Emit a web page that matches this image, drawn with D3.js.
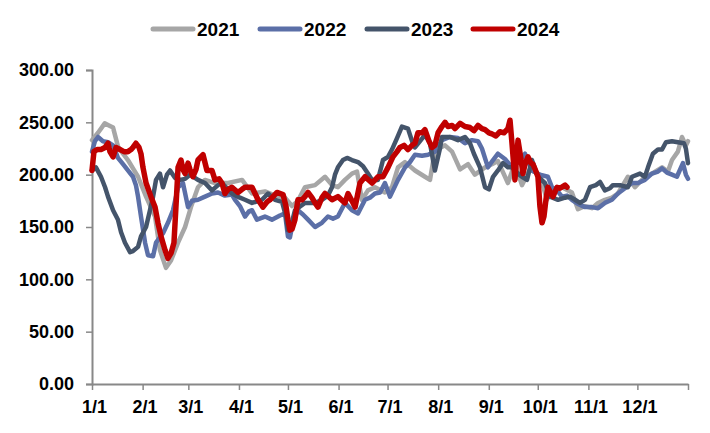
<!DOCTYPE html>
<html><head><meta charset="utf-8">
<script src="https://cdn.jsdelivr.net/npm/d3@7"></script>
<style>body{margin:0;background:#fff}svg{display:block}</style>
</head><body>
<script>
// ---- data (day of year, value) ----
const monthStartDays = [0,31,59,90,120,151,181,212,243,273,304,334];
const monthLabels = ["1/1","2/1","3/1","4/1","5/1","6/1","7/1","8/1","9/1","10/1","11/1","12/1"];
const yTicks = [0,50,100,150,200,250,300];
const seriesNames = ["2021","2022","2023","2024"];
const seriesColors = ["#A6A6A6","#5B6FA7","#44546A","#C00000"];

// pixel-read samples converted to day index
const px2021 = [[92,233],[98,240],[104.7,249],[109,247],[113,245],[118,227],[123,220],[128,214],[133,206],[138,198],[146,179],[155,160],[160,128],[166,111],[171,118],[178,135],[185,150],[191,169],[198,188],[205,195],[215,192],[228,192],[242,195],[252,182],[265,184],[275,180],[285,178],[292,170],[298,175],[305,188],[315,190],[325,198],[332,190],[338,188],[345,195],[352,201],[357,203],[362,176],[368,185],[375,188],[385,183],[392,188],[398,207],[405,212],[415,204],[425,198],[430,195],[435,223],[445,228],[452,222],[460,205],[468,210],[475,200],[485,207],[492,210],[498,213],[508,192],[515,211],[522,190],[530,205],[540,200],[547,176],[552,185],[562,188],[572,183],[578,167],[585,170],[592,168],[598,173],[605,176],[612,178],[618,182],[628,198],[635,188],[645,198],[652,201],[662,207],[668,203],[672,214],[678,222],[682,236],[686,228],[688,232]];
const px2022 = [[92,222],[95,232],[98,236],[103,232],[108,231],[113,228],[118,216],[123,210],[128,204],[133,198],[136,190],[138,179],[141,160],[145,135],[148,123],[153,122],[156,135],[160,140],[163,144],[168,154],[173,166],[178,188],[183,192],[188,169],[192,175],[198,176],[205,179],[212,182],[218,183],[225,180],[232,181],[235,176],[240,170],[245,160],[249,165],[252,166],[257,157],[265,160],[272,157],[280,161],[285,163],[288,141],[290,140],[293,155],[298,166],[303,162],[308,157],[315,150],[322,154],[328,160],[333,158],[338,160],[345,173],[352,166],[358,163],[365,176],[370,178],[375,182],[380,183],[385,192],[390,179],[398,195],[405,207],[410,212],[415,219],[422,218],[428,219],[435,222],[442,233],[450,236],[458,235],[465,230],[472,233],[478,232],[482,225],[488,207],[493,214],[498,220],[505,215],[512,207],[518,212],[525,220],[532,204],[540,200],[548,198],[552,188],[557,185],[562,179],[567,180],[572,176],[578,172],[585,169],[592,169],[598,168],[605,173],[612,176],[618,182],[625,187],[632,192],[638,192],[645,195],[652,201],[658,203],[662,206],[667,202],[672,200],[677,198],[683,211],[686,200],[688,196]];
const px2023 = [[92,204],[96,207],[101,198],[105,188],[108,179],[113,166],[118,157],[121,145],[125,135],[130,126],[133,127],[138,131],[141,141],[146,150],[150,166],[153,179],[156,195],[160,201],[163,188],[167,200],[170,204],[175,197],[180,195],[185,196],[190,200],[198,195],[205,192],[212,185],[218,190],[222,192],[232,182],[240,178],[245,176],[252,173],[262,176],[268,182],[275,176],[282,174],[286,160],[288,147],[292,155],[295,166],[305,173],[315,173],[322,176],[328,180],[332,188],[335,200],[338,207],[343,214],[347,216],[352,214],[358,212],[363,208],[368,201],[372,195],[378,195],[383,214],[388,217],[392,224],[397,235],[402,246],[408,244],[412,232],[415,226],[420,232],[425,238],[430,230],[435,204],[440,225],[442,236],[450,236],[458,233],[465,236],[470,230],[474,220],[480,207],[485,188],[489,186],[493,198],[498,204],[503,211],[508,207],[512,207],[518,201],[522,198],[527,195],[532,214],[538,198],[545,192],[550,179],[558,176],[565,178],[570,179],[575,176],[580,173],[585,176],[590,188],[596,190],[600,193],[605,185],[610,187],[613,190],[620,190],[628,188],[632,198],[640,201],[645,198],[648,207],[653,220],[658,224],[662,224],[666,231],[672,232],[678,231],[684,230],[686,225],[688,211]];
const px2024 = [[92,204],[94,222],[97,224],[101,224],[105,226],[108,230],[110,222],[113,217],[116,226],[120,224],[124,222],[128,222],[131,224],[133,226],[136,230],[139,226],[141,220],[143,207],[146,192],[151,179],[155,169],[158,154],[161,141],[165,128],[168,120],[171,125],[174,135],[176,169],[178,207],[181,214],[183,205],[185,201],[188,211],[190,205],[193,198],[196,205],[198,214],[203,219],[207,204],[212,204],[215,195],[219,196],[222,192],[225,182],[228,186],[232,188],[238,183],[242,186],[245,188],[252,188],[258,176],[263,169],[267,174],[270,176],[277,183],[283,181],[286,170],[288,157],[290,147],[292,148],[295,157],[298,176],[302,176],[305,179],[308,183],[312,178],[315,173],[318,169],[322,178],[325,182],[332,176],[338,179],[345,173],[348,182],[352,175],[355,169],[360,192],[365,198],[372,192],[378,198],[383,198],[388,207],[393,217],[397,222],[400,226],[404,228],[408,224],[412,228],[415,230],[418,240],[422,240],[425,243],[429,232],[432,226],[435,228],[438,240],[442,246],[445,250],[448,246],[452,247],[455,244],[460,249],[465,246],[470,245],[474,242],[478,247],[482,244],[485,243],[489,240],[492,239],[496,237],[500,241],[504,240],[508,244],[510,252],[512,230],[515,195],[518,233],[521,215],[523,201],[525,210],[528,217],[531,211],[533,210],[536,203],[538,198],[540,170],[542,154],[544,160],[546,176],[548,188],[551,182],[553,179],[557,188],[560,187],[565,190],[567,188]];

// convert sampled horizontal readings into day-of-year
const toDay = p => [Math.round(((p[0]-92)/1.633)*10)/10, p[1]];
const data2021 = px2021.map(toDay);
const data2022 = px2022.map(toDay);
const data2023 = px2023.map(toDay);
const data2024 = px2024.map(toDay);
const allSeries = [data2021,data2022,data2023,data2024];
const widths = [4.5,4.5,4.5,5.5];

// ---- chart ----
const W=710,H=433;
const m={left:92,right:22,top:70,bottom:49};
const svg=d3.select("body").append("svg").attr("width",W).attr("height",H);
const x=d3.scaleLinear().domain([0,365]).range([m.left,W-m.right]);
const y=d3.scaleLinear().domain([0,300]).range([H-m.bottom,m.top]);
const font="'Liberation Sans', Arial, sans-serif";

// y axis
const yAxis=svg.append("g").attr("transform",`translate(${m.left},0)`)
  .call(d3.axisLeft(y).tickValues(yTicks).tickFormat(d3.format(".2f")).tickSize(6).tickPadding(8));
yAxis.select(".domain").attr("stroke","#888").attr("stroke-width",2);
yAxis.selectAll(".tick line").attr("stroke","#888").attr("stroke-width",1.5);
yAxis.selectAll("text").attr("font-family",font).attr("font-weight","bold").attr("font-size",18).attr("fill","#000").attr("dx",-4);

// x axis
const xAxis=svg.append("g").attr("transform",`translate(0,${H-m.bottom})`)
  .call(d3.axisBottom(x).tickValues(monthStartDays.concat([365])).tickFormat((d,i)=>monthLabels[i]||"").tickSize(6).tickSizeOuter(0).tickPadding(10));
xAxis.select(".domain").attr("stroke","#888").attr("stroke-width",2);
xAxis.selectAll(".tick line").attr("stroke","#888").attr("stroke-width",1.5);
xAxis.selectAll("text").attr("font-family",font).attr("font-weight","bold").attr("font-size",18).attr("fill","#000").attr("dx",2);

// lines
const line=d3.line().x(d=>x(d[0])).y(d=>y(d[1])).curve(d3.curveLinear);
allSeries.forEach((s,i)=>{
  svg.append("path").datum(s).attr("fill","none").attr("stroke",seriesColors[i])
    .attr("stroke-width",widths[i]).attr("stroke-linejoin","round").attr("stroke-linecap","round").attr("d",line);
});

// legend
const legX=[153,260,367,473];
const leg=svg.append("g");
seriesNames.forEach((n,i)=>{
  leg.append("line").attr("x1",legX[i]).attr("x2",legX[i]+40).attr("y1",29).attr("y2",29)
    .attr("stroke",seriesColors[i]).attr("stroke-width",5).attr("stroke-linecap","round");
  leg.append("text").attr("x",legX[i]+44).attr("y",36).text(n)
    .attr("font-family",font).attr("font-weight","bold").attr("font-size",19).attr("fill","#000");
});
</script>
</body></html>
